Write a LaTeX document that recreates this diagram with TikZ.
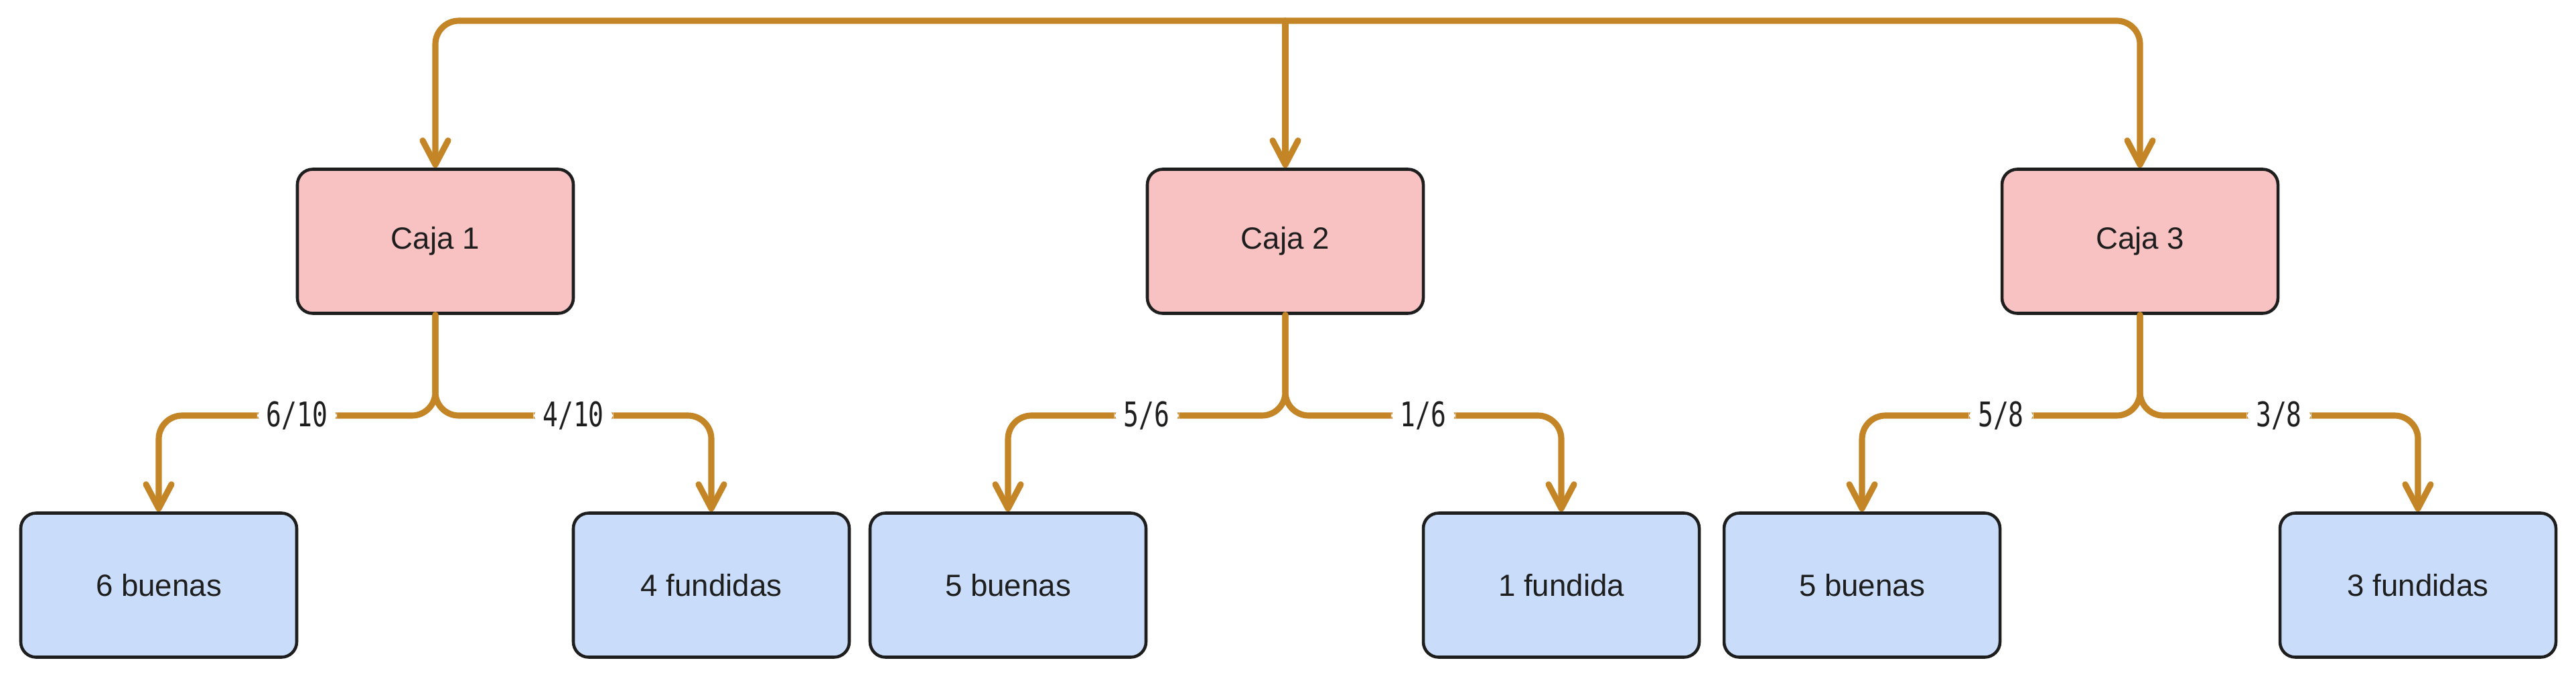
\documentclass[tikz,border=0pt]{standalone}
\usepackage{fontspec}
\setmainfont{Liberation Sans}
\newfontfamily\etiq[FakeStretch=0.75]{DejaVu Sans Mono}
\usetikzlibrary{arrows.meta,positioning}
\definecolor{rosa}{RGB}{248,193,194}
\definecolor{azul}{RGB}{201,220,249}
\definecolor{ocre}{RGB}{196,133,38}
\definecolor{tinta}{RGB}{30,30,30}
\tikzset{caja/.style={rounded corners=6.5pt, draw=tinta, line width=1.3pt, minimum width=4.12cm, minimum height=2.15cm, text=tinta, font=\fontsize{13}{15}\selectfont}}
\tikzset{arr/.style={draw=ocre, line width=2.6pt, line cap=round, rounded corners=0.35cm, -{Straight Barb[length=3.6mm, width=3.8mm, round]}}}
\tikzset{prob/.style={fill=white, inner xsep=0.14cm, inner ysep=0.05cm, text=tinta, font=\etiq\fontsize{14.4}{16}\selectfont}}

\begin{document}
\begin{tikzpicture}
			\useasboundingbox (0,0) rectangle (38.46,10.18);
			\node[caja, fill=rosa] (C1) at (6.50,6.58){Caja 1};
			\node[caja, fill=rosa] (C2) at (19.19,6.58){Caja 2};
			\node[caja, fill=rosa] (C3) at (31.95,6.58){Caja 3};
			
			\node[caja, fill=azul] (B1) at (2.37,1.45){6 buenas};
			\node[caja, fill=azul] (F1) at (10.62,1.45){4 fundidas};
			\node[caja, fill=azul] (B2) at (15.05,1.45){5 buenas};
			\node[caja, fill=azul] (F2) at (23.31,1.45){1 fundida};
			\node[caja, fill=azul] (B3) at (27.80,1.45){5 buenas};
			\node[caja, fill=azul] (F3) at (36.10,1.45){3 fundidas};
			
			\coordinate (raiz) at (19.19,9.87);
			\draw[arr] (raiz) -| (C1.north);
			\draw[arr] (raiz) -- (C2.north);
			\draw[arr] (raiz) -| (C3.north);
			
			\coordinate (r1) at (6.50,3.98);
			\coordinate (r2) at (19.19,3.98);
			\coordinate (r3) at (31.95,3.98);
			
			\draw[arr] (C1.south) -- (r1) -| node[prob, pos=0.25]{6/10} (B1.north);
			\draw[arr] (C1.south) -- (r1) -| node[prob, pos=0.25]{4/10} (F1.north);
			\draw[arr] (C2.south) -- (r2) -| node[prob, pos=0.25]{5/6} (B2.north);
			\draw[arr] (C2.south) -- (r2) -| node[prob, pos=0.25]{1/6} (F2.north);
			\draw[arr] (C3.south) -- (r3) -| node[prob, pos=0.25]{5/8} (B3.north);
			\draw[arr] (C3.south) -- (r3) -| node[prob, pos=0.25]{3/8} (F3.north);
		\end{tikzpicture}
\end{document}
